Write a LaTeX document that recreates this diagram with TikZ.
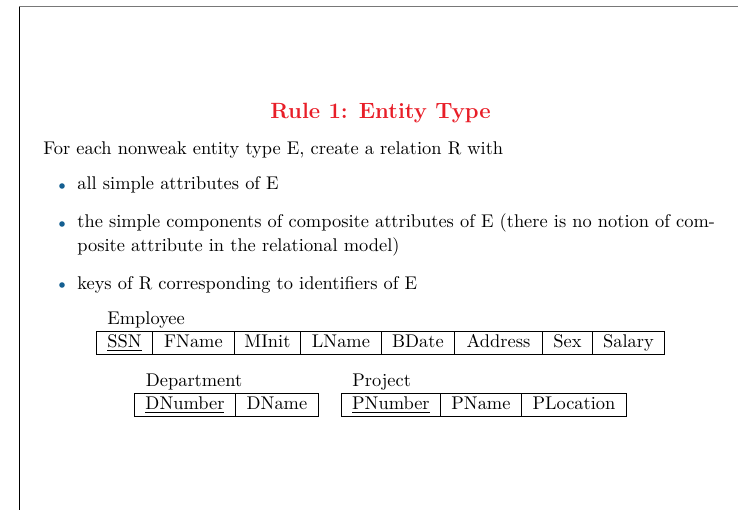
\documentclass[tikz,border=0pt]{standalone}
\usepackage{tikz}
\definecolor{titlered}{RGB}{232,30,40}
\definecolor{bulletblue}{RGB}{20,95,145}
\definecolor{framegray}{RGB}{120,120,120}
\newcommand\pu{0.5435pt}
\begin{document}
\begin{tikzpicture}[x=0.5435pt,y=-0.5435pt,
  txt/.style={anchor=base west,inner sep=0pt},
  cell/.style={draw,line width=0.5pt,inner sep=0pt,anchor=west,
    minimum height={23*\pu},text height=7pt,text depth=2pt},
  bul/.style={circle,fill=bulletblue,inner sep=0pt,minimum size={5.6*\pu}}]
\useasboundingbox (0,0) rectangle (738,510);
\draw[framegray,line width=0.8pt] (19,6.5) -- (738,6.5);
\draw[black,line width=0.6pt] (19.5,7) -- (19.5,510);
% title
\node[txt,text=titlered,font=\large\bfseries] (title) at (270,119) {Rule 1: Entity Type};
\node[txt] (intro) at (43,155) {For each nonweak entity type E, create a relation R with};
\node[bul] (d1) at (62,186) {};
\node[txt] (b1) at (77,190) {all simple attributes of E};
\node[bul] (d2) at (62,224) {};
\node[txt] (b2a) at (77,228) {the simple components of composite attributes of E (there is no notion of com-};
\node[txt] (b2b) at (77,252) {posite attribute in the relational model)};
\node[bul] (d3) at (62,285) {};
\node[txt] (b3) at (77,289) {keys of R corresponding to identifiers of E};
% Employee
\node[txt] (emp) at (107,324.5) {Employee};
\node[cell,minimum width={56*\pu}] (e1) at (96,342.5) {\underline{SSN}};
\node[cell,minimum width={82*\pu}] (e2) at (152,342.5) {FName};
\node[cell,minimum width={66*\pu}] (e3) at (234,342.5) {MInit};
\node[cell,minimum width={81*\pu}] (e4) at (300,342.5) {LName};
\node[cell,minimum width={73*\pu}] (e5) at (381,342.5) {BDate};
\node[cell,minimum width={88*\pu}] (e6) at (454,342.5) {Address};
\node[cell,minimum width={50*\pu}] (e7) at (542,342.5) {Sex};
\node[cell,minimum width={72*\pu}] (e8) at (592,342.5) {Salary};
% Department
\node[txt] (dep) at (145.5,386.5) {Department};
\node[cell,minimum width={101*\pu}] (d1c) at (134,404.5) {\underline{DNumber}};
\node[cell,minimum width={83*\pu}] (d2c) at (235,404.5) {DName};
% Project
\node[txt] (proj) at (352,386.5) {Project};
\node[cell,minimum width={99*\pu}] (p1) at (341,404.5) {\underline{PNumber}};
\node[cell,minimum width={81*\pu}] (p2) at (440,404.5) {PName};
\node[cell,minimum width={105*\pu}] (p3) at (521,404.5) {PLocation};
\end{tikzpicture}
\end{document}
